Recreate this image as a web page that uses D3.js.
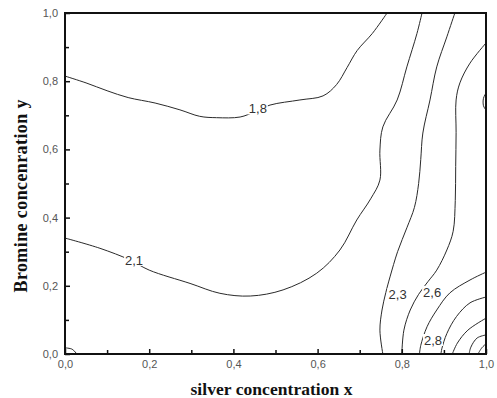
<!DOCTYPE html>
<html><head><meta charset="utf-8">
<script src="https://cdn.jsdelivr.net/npm/d3@7"></script>
<style>body{margin:0;background:#fff}</style>
</head><body>
<svg id="c" width="497" height="398"></svg>
<script>
// ---- data ----
const xTicks = [0, 0.2, 0.4, 0.6, 0.8, 1.0];
const yTicks = [0, 0.2, 0.4, 0.6, 0.8, 1.0];
const minorTicks = [0.1, 0.3, 0.5, 0.7, 0.9];

// contour lines of the map, points as [silver x, bromine y]
const c18 = [[0,0.815],[0.05,0.795],[0.1,0.772],[0.15,0.752],[0.214,0.736],[0.273,0.716],[0.32,0.697],[0.36,0.693],[0.416,0.695],[0.45,0.71],[0.487,0.73],[0.558,0.745],[0.613,0.757],[0.645,0.79],[0.67,0.84],[0.694,0.89],[0.73,0.94],[0.765,1.0]];
const c21 = [[0,0.34],[0.083,0.31],[0.154,0.276],[0.2,0.246],[0.297,0.207],[0.368,0.178],[0.44,0.17],[0.518,0.188],[0.598,0.237],[0.653,0.305],[0.693,0.393],[0.726,0.455],[0.748,0.51],[0.748,0.598],[0.755,0.666],[0.789,0.745],[0.812,0.842],[0.836,0.94],[0.848,1.0]];
const c23 = [[0.755,0],[0.748,0.07],[0.753,0.129],[0.762,0.18],[0.772,0.226],[0.79,0.30],[0.812,0.37],[0.83,0.43],[0.84,0.5],[0.845,0.57],[0.85,0.648],[0.867,0.745],[0.883,0.842],[0.907,0.93],[0.926,1.0]];
const c26 = [[0.80,0],[0.805,0.07],[0.82,0.129],[0.84,0.175],[0.862,0.212],[0.883,0.246],[0.907,0.305],[0.922,0.36],[0.927,0.45],[0.928,0.55],[0.929,0.65],[0.929,0.745],[0.938,0.795],[0.962,0.853],[1.0,0.912]];
const c28a = [[1.0,0.24],[0.962,0.217],[0.914,0.179],[0.883,0.129],[0.86,0.08],[0.845,0.025],[0.842,0]];
const c28b = [[1.0,0.167],[0.962,0.15],[0.93,0.11],[0.907,0.06],[0.895,0.015],[0.893,0]];
const c28c = [[1.0,0.105],[0.957,0.07],[0.932,0.032],[0.92,0]];
const c28d = [[1.0,0.056],[0.979,0.047],[0.964,0.02],[0.96,0]];
const c28e = [[1.0,0.03],[0.99,0.018],[0.981,0]];
const cEdge = [[1.0,0.765],[0.994,0.75],[0.994,0.728],[1.0,0.715]];
const cCorner = [[0,0.018],[0.017,0.014],[0.028,0]];
const contourLines = [c18, c21, c23, c26, c28a, c28b, c28c, c28d, c28e, cEdge, cCorner];

const labelText = ["1,8", "2,1", "2,3", "2,6", "2,8"];
const labelX = [0.458, 0.164, 0.79, 0.872, 0.874];
const labelY = [0.72, 0.276, 0.176, 0.182, 0.041];

// ---- drawing ----
const svg = d3.select("#c");
const ml = 65, mt = 13, W = 421, H = 341;
const x = d3.scaleLinear().domain([0, 1]).range([ml, ml + W]);
const y = d3.scaleLinear().domain([0, 1]).range([mt + H, mt]);
const fmt = v => d3.format(".1f")(v).replace(".", ",");

const line = d3.line().x(d => x(d[0])).y(d => y(d[1])).curve(d3.curveCatmullRom.alpha(0.5));

svg.append("defs").append("clipPath").attr("id", "clip")
  .append("rect").attr("x", ml).attr("y", mt).attr("width", W).attr("height", H);

const g = svg.append("g").attr("clip-path", "url(#clip)");
g.selectAll("path.ct").data(contourLines).join("path")
  .attr("class", "ct")
  .attr("d", line)
  .attr("fill", "none")
  .attr("stroke", "#2a2a2a")
  .attr("stroke-width", 1);

// contour labels with white knock-out
const lab = svg.append("g");
labelText.forEach((t, i) => {
  const gg = lab.append("g").attr("transform", `translate(${x(labelX[i])},${y(labelY[i])})`);
  gg.append("rect").attr("x", -10).attr("y", -6).attr("width", 20).attr("height", 12).attr("fill", "#fff");
  gg.append("text").text(t).attr("text-anchor", "middle").attr("dy", "0.36em")
    .attr("font-family", "Liberation Sans, Arial, sans-serif").attr("font-size", 13)
    .attr("fill", "#333");
});

// axes
const tickFont = g2 => g2.selectAll("text")
  .attr("font-family", "Liberation Sans, Arial, sans-serif").attr("font-size", 11).attr("fill", "#555");

const xAxis = svg.append("g").attr("transform", `translate(0,${mt + H})`)
  .call(d3.axisBottom(x).tickValues(xTicks).tickFormat(fmt).tickSizeInner(-5).tickSizeOuter(0).tickPadding(6));
xAxis.call(tickFont);
svg.append("g").attr("transform", `translate(0,${mt + H})`)
  .call(d3.axisBottom(x).tickValues(minorTicks).tickFormat("").tickSizeInner(-4).tickSizeOuter(0));

const yAxis = svg.append("g").attr("transform", `translate(${ml},0)`)
  .call(d3.axisLeft(y).tickValues(yTicks).tickFormat(fmt).tickSizeInner(-5).tickSizeOuter(0).tickPadding(7));
yAxis.call(tickFont);
svg.append("g").attr("transform", `translate(${ml},0)`)
  .call(d3.axisLeft(y).tickValues(minorTicks).tickFormat("").tickSizeInner(-4).tickSizeOuter(0));

svg.selectAll(".domain").remove();
svg.selectAll(".tick line").attr("stroke", "#111").attr("stroke-width", 1.5);

// frame
svg.append("rect").attr("x", ml).attr("y", mt).attr("width", W).attr("height", H)
  .attr("fill", "none").attr("stroke", "#111").attr("stroke-width", 2);

// titles
svg.append("text").text("silver concentration x")
  .attr("x", ml + W / 2 - 4).attr("y", 395).attr("text-anchor", "middle")
  .attr("font-family", "Liberation Serif, Times New Roman, serif").attr("font-weight", "bold")
  .attr("font-size", 17.5).attr("textLength", 162).attr("fill", "#111");
svg.append("text").text("Bromine concenration y")
  .attr("transform", "translate(27,196) rotate(-90)").attr("text-anchor", "middle")
  .attr("font-family", "Liberation Serif, Times New Roman, serif").attr("font-weight", "bold")
  .attr("font-size", 18).attr("textLength", 193).attr("fill", "#111");
</script>
</body></html>
